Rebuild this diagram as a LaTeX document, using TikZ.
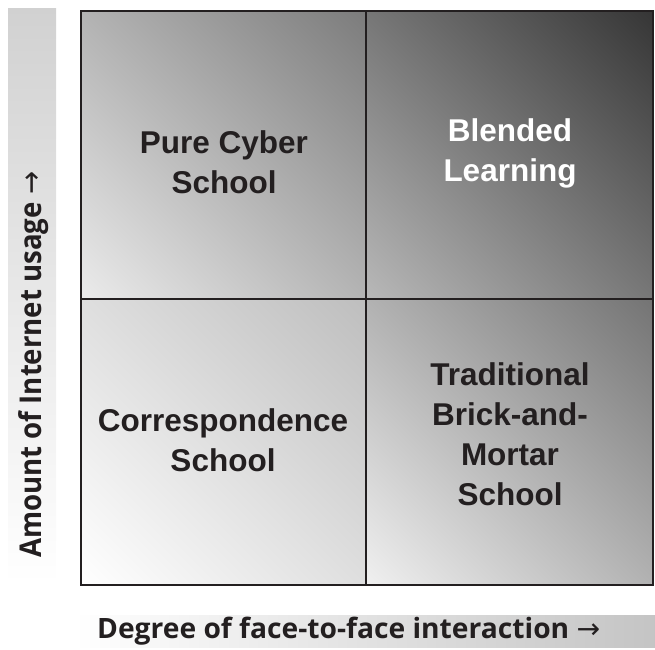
\documentclass[tikz,border=0pt]{standalone}
\usepackage{fontspec}
\usepackage{graphicx}
\setsansfont{Liberation Sans}
\newfontfamily\axfont{Open Sans}
\newfontfamily\arrfont{DejaVu Sans}
\definecolor{tlA}{HTML}{EBEBEB}\definecolor{tlB}{HTML}{7C7C7C}
\definecolor{trA}{HTML}{B8B8B8}\definecolor{trB}{HTML}{363636}
\definecolor{blA}{HTML}{FFFFFF}\definecolor{blB}{HTML}{BEBEBE}
\definecolor{brA}{HTML}{F0F0F0}\definecolor{brB}{HTML}{747474}
\definecolor{framec}{HTML}{231F20}
\definecolor{textc}{HTML}{231F20}
\pgfdeclareverticalshading{qTL}{100bp}{color(0bp)=(tlA); color(14.64bp)=(tlA); color(85.36bp)=(tlB); color(100bp)=(tlB)}
\pgfdeclareverticalshading{qTR}{100bp}{color(0bp)=(trA); color(14.64bp)=(trA); color(85.36bp)=(trB); color(100bp)=(trB)}
\pgfdeclareverticalshading{qBL}{100bp}{color(0bp)=(blA); color(14.64bp)=(blA); color(85.36bp)=(blB); color(100bp)=(blB)}
\pgfdeclareverticalshading{qBR}{100bp}{color(0bp)=(brA); color(14.64bp)=(brA); color(85.36bp)=(brB); color(100bp)=(brB)}
\newcommand{\axarrow}{{\arrfont\fontseries{m}\selectfont →}}
\tikzset{
  quad/.style={shading=#1, shading angle=-45},
  frameline/.style={draw=framec, line width=2.5pt},
  qlab/.style={anchor=base, inner sep=0pt, text=textc,
    font=\fontsize{31.5}{40}\selectfont\sffamily\bfseries},
  axlab/.style={inner sep=0pt, text=textc,
    font=\fontsize{28}{32}\selectfont\axfont\bfseries},
}
\begin{document}
\begin{tikzpicture}[x=1pt,y=-1pt]
\useasboundingbox (0,0) rectangle (655,649);
% axis bars
\fill[top color=black!18, bottom color=white] (8,8) rectangle (56,584);
\fill[left color=white, right color=black!23] (75,615) rectangle (655,647);
% quadrants
\path[quad=qTL] (81,11) rectangle (366,299);
\path[quad=qTR] (366,11) rectangle (653,299);
\path[quad=qBL] (81,299) rectangle (366,585);
\path[quad=qBR] (366,299) rectangle (653,585);
% frame
\draw[frameline] (81,11) rectangle (653,585);
\draw[frameline] (366,11) -- (366,585);
\draw[frameline] (81,299) -- (653,299);
% labels
\node[qlab] (pc) at (224,153) {\begin{tabular}[t]{@{}c@{}}Pure Cyber\\School\end{tabular}};
\node[qlab, text=white] (bl) at (510,141) {\begin{tabular}[t]{@{}c@{}}Blended\\Learning\end{tabular}};
\node[qlab] (cs) at (223,431.7) {\begin{tabular}[t]{@{}c@{}}Correspondence\\School\end{tabular}};
\node[qlab] (tb) at (510,385) {\begin{tabular}[t]{@{}c@{}}Traditional\\Brick-and-\\Mortar\\School\end{tabular}};
% axis labels
\node[axlab, anchor=base west] (xl) at (97,638)
  {\resizebox{503pt}{\height}{Degree of face-to-face interaction \axarrow}};
\node[axlab, rotate=90, anchor=base west, font=\fontsize{30}{34}\selectfont\axfont\bfseries] (yl) at (41,558)
  {\resizebox{386pt}{\height}{Amount of Internet usage \axarrow}};
\end{tikzpicture}
\end{document}
